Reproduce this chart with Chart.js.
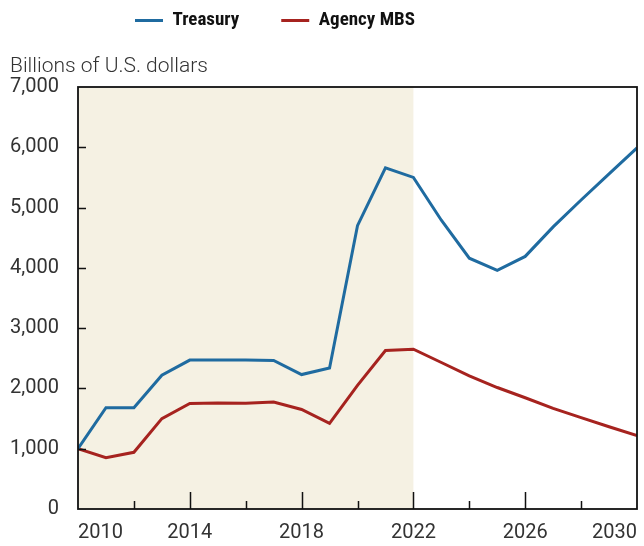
<!DOCTYPE html>
<html>
<head>
<meta charset="utf-8">
<script src="https://cdn.jsdelivr.net/npm/chart.js@4"></script>
<style>
  html, body { margin: 0; padding: 0; background: #fff; }
  #wrap { width: 644px; height: 546px; }
</style>
</head>
<body>
<div id="wrap"><canvas id="myChart" width="644" height="546"></canvas></div>
<script>
var years = [2010, 2011, 2012, 2013, 2014, 2015, 2016, 2017, 2018, 2019, 2020,
  2021, 2022, 2023, 2024, 2025, 2026, 2027, 2028, 2029, 2030];
var treasury = [1000, 1680, 1680, 2220, 2470, 2470, 2470, 2465, 2230, 2340, 4700,
  5660, 5500, 4790, 4160, 3960, 4190, 4680, 5125, 5560, 5990];
var agencyMbs = [1000, 850, 940, 1500, 1750, 1760, 1755, 1775, 1650, 1420, 2050,
  2630, 2650, 2430, 2210, 2015, 1845, 1670, 1515, 1365, 1220];
var yTicks = [0, 1000, 2000, 3000, 4000, 5000, 6000, 7000];
var xLabelEvery = 4;
var historyEnd = 2022;
var unitLabel = "Billions of U.S. dollars";

var legendGap = 42;

function toPoints(values) {
  return values.map(function (v, i) {
    return { x: years[i], y: v };
  });
}

// beige band behind the historical years, box frame with inward ticks,
// and the unit label above the y axis
var frame = {
  id: "frame",
  afterLayout: function (chart) {
    var lg = chart.legend;
    // first legend swatch starts at x=135, items centred near y=19
    lg.right = 2 * 135 - lg.left - legendGap + lg.lineWidths[0];
    lg.top = 21 - 10 - legendGap;
  },
  beforeDatasetsDraw: function (chart) {
    var ctx = chart.ctx;
    var a = chart.chartArea;
    var x = chart.scales.x;
    var x0 = x.getPixelForValue(years[0]);
    var x1 = x.getPixelForValue(historyEnd);
    ctx.save();
    ctx.fillStyle = "#f5f1e3";
    ctx.fillRect(x0, a.top, x1 - x0, a.bottom - a.top);
    ctx.restore();
  },
  afterDatasetsDraw: function (chart) {
    var ctx = chart.ctx;
    var a = chart.chartArea;
    var x = chart.scales.x;
    var y = chart.scales.y;
    ctx.save();
    ctx.strokeStyle = "#111";
    ctx.lineWidth = 1.8;
    ctx.strokeRect(a.left, a.top, a.right - a.left, a.bottom - a.top);
    ctx.lineWidth = 1.5;
    ctx.beginPath();
    x.ticks.forEach(function (t) {
      if (t.value === years[0] || t.value === years[years.length - 1]) return;
      var px = Math.round(x.getPixelForValue(t.value)) + 0.5;
      var len = (t.value - years[0]) % xLabelEvery === 0 ? 17 : 8;
      ctx.moveTo(px, a.bottom);
      ctx.lineTo(px, a.bottom - len);
    });
    y.ticks.forEach(function (t) {
      if (t.value === yTicks[0] || t.value === yTicks[yTicks.length - 1]) return;
      var py = Math.round(y.getPixelForValue(t.value)) + 0.5;
      ctx.moveTo(a.left, py);
      ctx.lineTo(a.left + 8, py);
    });
    ctx.stroke();

    ctx.fillStyle = "#333";
    ctx.font = "300 21px Roboto";
    ctx.textAlign = "left";
    ctx.textBaseline = "alphabetic";
    ctx.fillText(unitLabel, 10, 72);
    ctx.restore();
  },
};

var ctx = document.getElementById("myChart").getContext("2d");
var myChart = new Chart(ctx, {
  type: "line",
  data: {
    datasets: [
      {
        label: "Treasury",
        data: toPoints(treasury),
        borderColor: "#1f6ba0",
        backgroundColor: "#1f6ba0",
        borderWidth: 3,
        pointRadius: 0,
        tension: 0,
      },
      {
        label: "Agency MBS",
        data: toPoints(agencyMbs),
        borderColor: "#a6231f",
        backgroundColor: "#a6231f",
        borderWidth: 3,
        pointRadius: 0,
        tension: 0,
      },
    ],
  },
  options: {
    responsive: false,
    animation: false,
    layout: { padding: { left: 10, right: 7, top: 16, bottom: 2 } },
    plugins: {
      legend: {
        position: "top",
        labels: {
          usePointStyle: true,
          pointStyle: "line",
          pointStyleWidth: 28,
          boxHeight: 6,
          padding: legendGap,
          color: "#111",
          font: {
            family: "'Liberation Sans Narrow', 'Roboto Condensed', Roboto",
            size: 19,
            weight: "bold",
          },
        },
      },
      tooltip: { enabled: false },
    },
    scales: {
      x: {
        type: "linear",
        min: years[0],
        max: years[years.length - 1],
        grid: { display: false, drawTicks: false },
        border: { display: false },
        afterFit: function (scale) {
          scale.height = 35;
          scale.paddingLeft = 0;
          scale.paddingRight = 0;
        },
        ticks: {
          stepSize: 2,
          autoSkip: false,
          maxRotation: 0,
          align: "inner",
          padding: 12,
          color: "#333",
          font: { family: "Roboto", size: 20 },
          callback: function (value) {
            return (value - years[0]) % xLabelEvery === 0 ? String(value) : "";
          },
        },
      },
      y: {
        min: yTicks[0],
        max: yTicks[yTicks.length - 1],
        grid: { display: false, drawTicks: false },
        border: { display: false },
        afterFit: function (scale) {
          scale.width = 68;
        },
        afterBuildTicks: function (scale) {
          scale.ticks = yTicks.map(function (v) {
            return { value: v };
          });
        },
        ticks: {
          padding: 19,
          color: "#333",
          font: { family: "Roboto", size: 20 },
          callback: function (value) {
            return value.toLocaleString("en-US");
          },
        },
      },
    },
  },
  plugins: [frame],
});
</script>
</body>
</html>
